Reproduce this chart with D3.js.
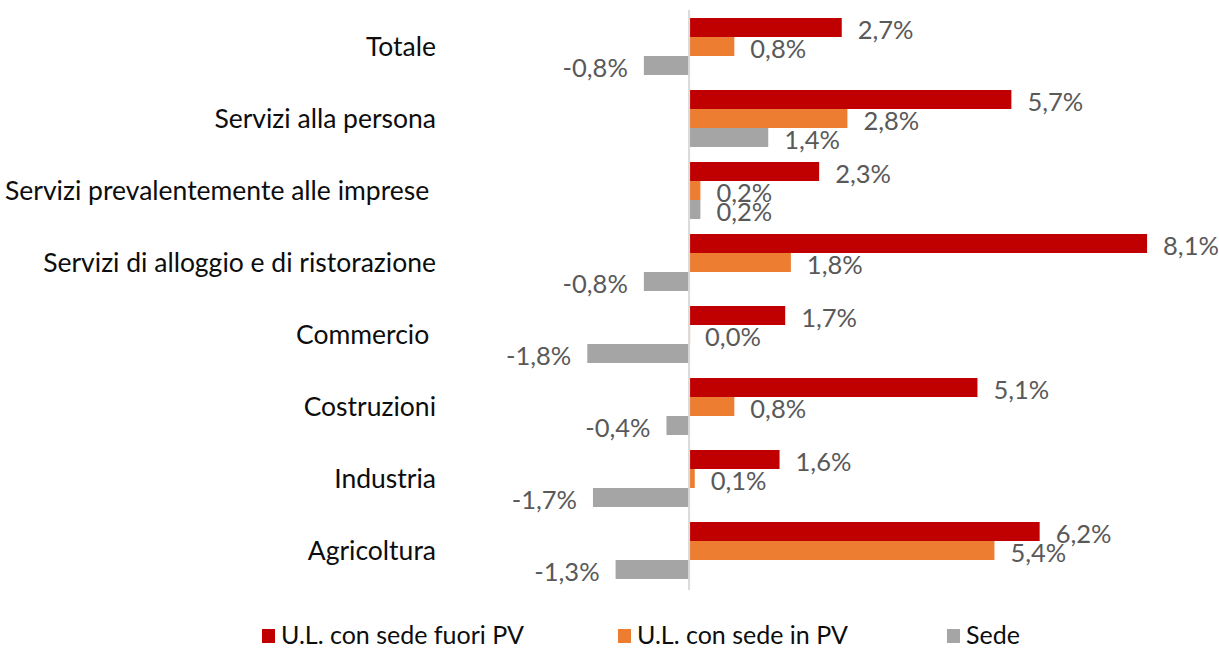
<!DOCTYPE html>
<html>
<head>
<meta charset="utf-8">
<script src="https://cdn.jsdelivr.net/npm/d3@7"></script>
<style>
  body { margin: 0; background: #fff; }
  svg { font-family: Lato, "Open Sans", sans-serif; }
</style>
</head>
<body>
<figure id="chart" style="margin:0"></figure>
<script>
// categories, top to bottom
var categories = ["Totale", "Servizi alla persona", "Servizi prevalentemente alle imprese ",
    "Servizi di alloggio e di ristorazione", "Commercio ", "Costruzioni", "Industria", "Agricoltura"];

var series = ["U.L. con sede fuori PV", "U.L. con sede in PV", "Sede"];
var colors = ["#c00000", "#ed7d31", "#a5a5a5"];

var fuoriPV = [2.7, 5.7, 2.3, 8.1, 1.7, 5.1, 1.6, 6.2];
var inPV    = [0.8, 2.8, 0.2, 1.8, 0.0, 0.8, 0.1, 5.4];
var sede    = [-0.8, 1.4, 0.2, -0.8, -1.8, -0.4, -1.7, -1.3];

var values = [fuoriPV, inPV, sede];

var width = 1219, height = 648;

var svg = d3.select("figure#chart")
    .append("svg")
    .attr("width", width)
    .attr("height", height);

var xScale = d3.scaleLinear()
    .domain([-2, 8.5])
    .range([576, 1169.7]);

var yScale = d3.scaleBand()
    .domain(categories)
    .range([18, 579])
    .paddingInner(15 / 72)
    .paddingOuter(0);

var ySub = d3.scaleBand()
    .domain(series)
    .range([0, yScale.bandwidth()]);

var fmt = v => d3.format(".1f")(v).replace(".", ",").replace("\u2212", "-") + "%";

// rows: one object per bar
var rows = [];
categories.forEach((c, i) => {
    series.forEach((s, j) => {
        rows.push({cat: c, series: s, value: values[j][i], color: colors[j]});
    });
});

svg.selectAll("rect.bar")
    .data(rows)
    .enter()
    .append("rect")
    .attr("class", "bar")
    .attr("x", d => xScale(Math.min(0, d.value)))
    .attr("y", d => yScale(d.cat) + ySub(d.series))
    .attr("width", d => Math.max(Math.abs(xScale(d.value) - xScale(0)), d.value === 0 ? 1 : 0))
    .attr("height", ySub.bandwidth())
    .attr("fill", d => d.color);

// zero axis line
svg.append("line")
    .attr("x1", xScale(0)).attr("x2", xScale(0))
    .attr("y1", 10).attr("y2", 590)
    .attr("stroke", "#d9d9d9")
    .attr("stroke-width", 2);

// value labels
svg.selectAll("text.val")
    .data(rows)
    .enter()
    .append("text")
    .attr("class", "val")
    .attr("x", d => d.value < 0 ? xScale(d.value) - 16 : xScale(d.value) + 16)
    .attr("y", d => yScale(d.cat) + ySub(d.series) + ySub.bandwidth() / 2 + 3)
    .attr("dy", "0.35em")
    .attr("text-anchor", d => d.value < 0 ? "end" : "start")
    .attr("fill", "#595959")
    .style("font-size", "25.5px")
    .text(d => fmt(d.value));

// category labels
svg.selectAll("text.cat")
    .data(categories)
    .enter()
    .append("text")
    .attr("class", "cat")
    .attr("x", 436)
    .attr("y", d => yScale(d) + yScale.bandwidth() / 2)
    .attr("dy", "0.35em")
    .attr("text-anchor", "end")
    .attr("fill", "#0d0d0d")
    .style("font-size", "26.5px")
    .style("white-space", "pre")
    .text(d => d);

// legend
var legendX = [262, 618, 947];
var legend = svg.selectAll("g.legend")
    .data(series)
    .enter()
    .append("g")
    .attr("class", "legend")
    .attr("transform", (d, i) => `translate(${legendX[i]}, 635)`);

legend.append("rect")
    .attr("x", 0).attr("y", -6)
    .attr("width", 13).attr("height", 14)
    .attr("fill", (d, i) => colors[i]);

legend.append("text")
    .attr("x", 19)
    .attr("dy", "0.35em")
    .attr("fill", "#0d0d0d")
    .style("font-size", "25px")
    .text(d => d);
</script>
</body>
</html>
